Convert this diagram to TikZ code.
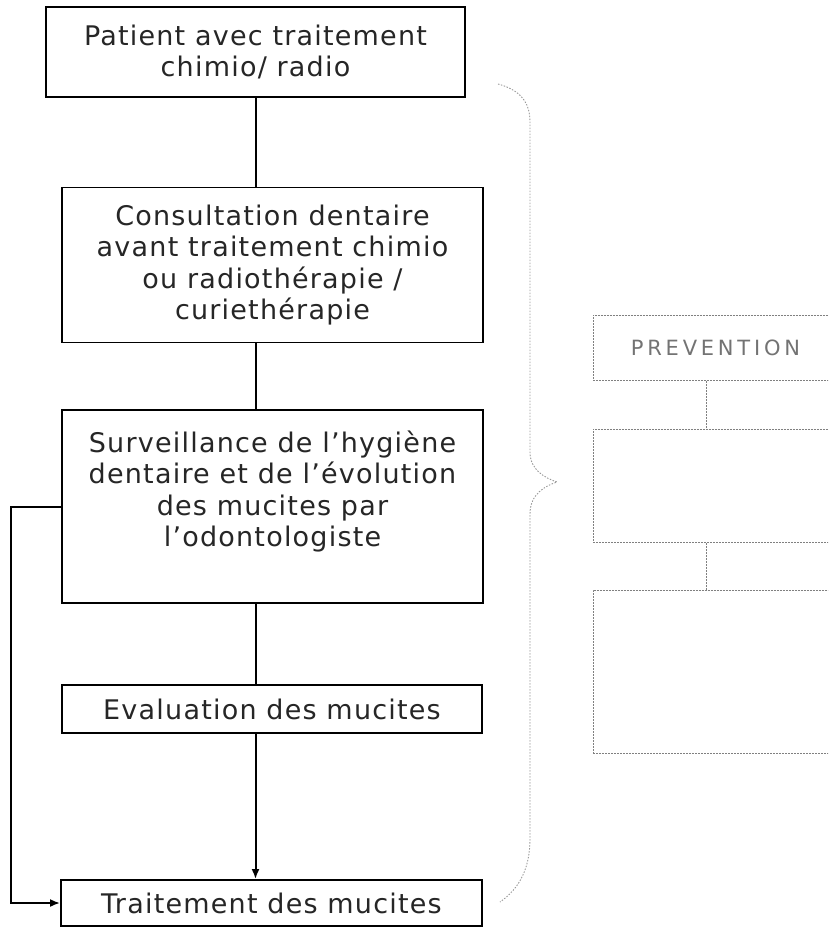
\documentclass[tikz,border=0pt]{standalone}
\usepackage{fontspec}
\setmainfont{DejaVu Sans}[LetterSpace=4.5]
\newfontfamily\ghostfont{DejaVu Sans}[LetterSpace=18]
\usetikzlibrary{arrows.meta}
\begin{document}
\begin{tikzpicture}[x=1pt,y=-1pt,
  flowbox/.style={draw=black, line width=1.8pt, align=center, inner sep=0pt,
    font=\fontsize{27}{31.5}\selectfont, text=black!85},
  connline/.style={draw=black, line width=2pt},
  arrowtip/.style={-{Latex[length=10pt,width=8pt]}},
  ghostbox/.style={draw=black!50, line width=0.9pt, dash pattern=on 2pt off 1pt,
    inner sep=0pt, anchor=north west, minimum width=244pt,
    font=\ghostfont\fontsize{21}{25}\selectfont, text=black!55},
  ghostline/.style={draw=black!50, line width=0.9pt, dash pattern=on 2pt off 1pt},
  bracestyle/.style={draw=black!40, line width=0.9pt, dash pattern=on 1.5pt off 1.5pt}
]
\useasboundingbox (0,0) rectangle (828,928);
\clip (0,0) rectangle (828,928);

% main flow
\node[flowbox, minimum width=419pt, minimum height=90pt] (b1) at (255.5,52)
  {Patient avec traitement\\chimio/ radio};
\node[flowbox, minimum width=421pt, minimum height=155pt] (b2) at (272.5,265)
  {Consultation dentaire\\avant traitement chimio\\ou radiothérapie /\\curiethérapie};
\node[flowbox, minimum width=421pt, minimum height=193pt] (b3) at (272.5,506.5)
  {Surveillance de l’hygiène\\dentaire et de l’évolution\\des mucites par\\l’odontologiste\\[4pt]};
\node[flowbox, minimum width=420pt, minimum height=48pt] (b4) at (272,709)
  {Evaluation des mucites};
\node[flowbox, minimum width=421pt, minimum height=46pt] (b5) at (271.5,903)
  {Traitement des mucites};

\draw[connline] (b1.south) -- (b1.south |- b2.north);
\draw[connline] (b2.south -| b1.south) -- (b3.north -| b1.south);
\draw[connline] (b3.south -| b1.south) -- (b4.north -| b1.south);
\draw[connline, arrowtip] (b4.south -| b1.south) -- (b5.north -| b1.south);
\draw[connline, arrowtip] (b3.west) -- ++(-50,0) |- (b5.west);

% brace
\draw[bracestyle] (498,84) .. controls (520,90) and (530,102) .. (530,122)
  -- (530,452) .. controls (530,470) and (545,478) .. (557,482)
  .. controls (545,486) and (530,494) .. (530,514)
  -- (530,838) .. controls (530,868) and (520,888) .. (500,902);

% right-hand faint boxes
\node[ghostbox, minimum height=65pt] (p1) at (593,315) {PREVENTION};
\node[ghostbox, minimum height=113pt] (p2) at (593,429) {};
\node[ghostbox, minimum height=163pt] (p3) at (593,590) {};
\coordinate (gx) at (706,0);
\draw[ghostline] (p1.south -| gx) -- (p2.north -| gx);
\draw[ghostline] (p2.south -| gx) -- (p3.north -| gx);
\end{tikzpicture}
\end{document}
